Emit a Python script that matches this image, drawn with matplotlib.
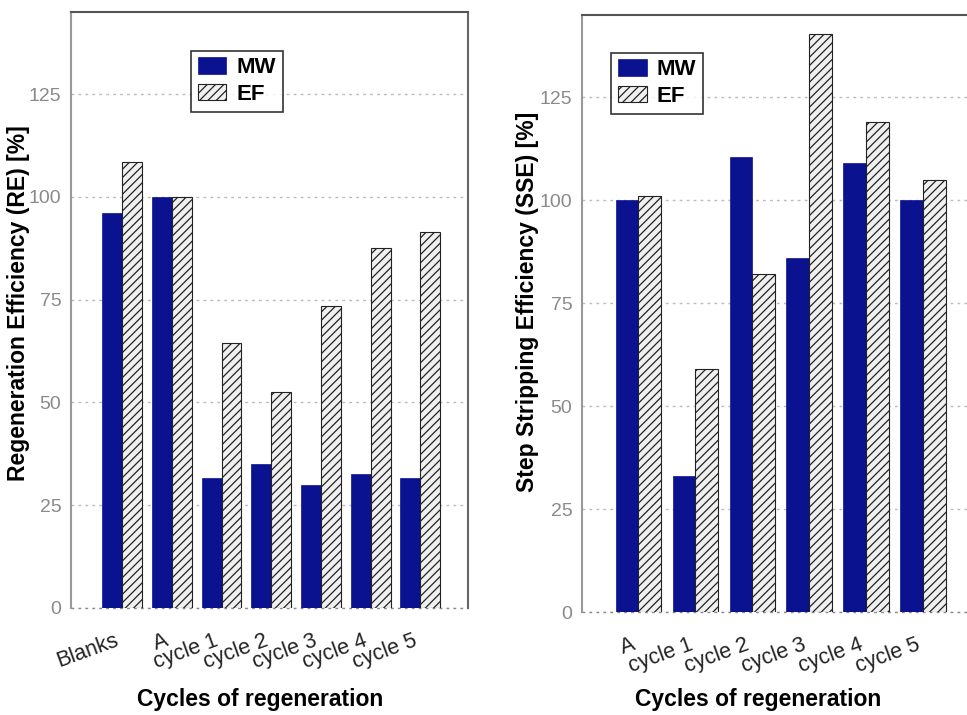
import numpy as np
import matplotlib
matplotlib.use("Agg")
import matplotlib.pyplot as plt

plt.rcParams['font.family'] = ['Liberation Sans', 'DejaVu Sans']
plt.rcParams['hatch.linewidth'] = 0.9
plt.rcParams['hatch.color'] = '#333333'

# Left panel: regeneration efficiency
re_labels = ["Blanks", "A", "cycle 1", "cycle 2", "cycle 3", "cycle 4", "cycle 5"]
re_mw = [96, 100, 31.5, 35, 30, 32.5, 31.5]
re_ef = [108.5, 100, 64.5, 52.5, 73.5, 87.5, 91.5]

# Right panel: step stripping efficiency
sse_labels = ["A", "cycle 1", "cycle 2", "cycle 3", "cycle 4", "cycle 5"]
sse_mw = [100, 33, 110.5, 86, 109, 100]
sse_ef = [101, 59, 82, 140.5, 119, 105]

yticks = [0, 25, 50, 75, 100, 125]

mw_color = "#0a1290"
width = 0.4

fig = plt.figure(figsize=(9.67, 7.15), dpi=100)
ax1 = fig.add_axes([0.0734, 0.1497, 0.4106, 0.8336])
ax2 = fig.add_axes([0.6019, 0.144, 0.4116, 0.835])


def draw(ax, labels, mw, ef, ylabel, xlim, xlab_xy, ylab_xy, legend_anchor,
         tick_shift):
    x = np.arange(len(labels))
    ax.bar(x - width / 2, mw, width, color=mw_color, edgecolor=mw_color,
           linewidth=0.5, label="MW", zorder=3)
    ax.bar(x + width / 2, ef, width, color="#f0f0f0", edgecolor="#222222",
           hatch="////", linewidth=0.8, label="EF", zorder=3)
    ax.set_xlim(*xlim)
    ax.set_ylim(0, 145)
    ax.set_yticks(yticks)
    ax.set_yticklabels([str(t) for t in yticks], color="#8a8a8a", fontsize=14)
    # slanted labels sit a bit left of the group centre
    ax.set_xticks(x - tick_shift)
    ax.set_xticklabels(labels, rotation=20, ha="right", rotation_mode="anchor",
                       fontsize=15.5, color="#222222")
    ax.tick_params(axis="both", length=0)
    ax.tick_params(axis="y", pad=7)
    ax.tick_params(axis="x", pad=16)
    ax.grid(axis="y", linestyle=(0, (2, 3)), color="#bbbbbb", linewidth=1.0,
            zorder=0)
    ax.spines["bottom"].set_visible(False)
    ax.spines["left"].set_color("#999999")
    ax.spines["top"].set_color("#555555")
    ax.spines["right"].set_color("#666666")
    for s in ["left", "top", "right"]:
        ax.spines[s].set_linewidth(1.5)
    ax.axhline(0, linestyle=(0, (2, 3)), color="#888888", linewidth=1.0,
               zorder=1, clip_on=False)
    ax.set_ylabel(ylabel, fontsize=16.5, fontweight="bold")
    ax.set_xlabel("Cycles of regeneration", fontsize=16.5, fontweight="bold")
    ax.yaxis.set_label_coords(*ylab_xy)
    ax.xaxis.set_label_coords(*xlab_xy)
    leg = ax.legend(loc="upper left", bbox_to_anchor=legend_anchor,
                    frameon=True, fancybox=False, edgecolor="black",
                    prop={"weight": "bold", "size": 16}, handlelength=1.3,
                    handleheight=0.75, borderpad=0.3, labelspacing=0.25,
                    handletextpad=0.45, borderaxespad=0)
    leg.get_frame().set_linewidth(1.2)


draw(ax1, re_labels, re_mw, re_ef, "Regeneration Efficiency (RE) [%]",
     (-1.03, 6.96), (0.476, -0.134), (-0.104, 0.512), (0.302, 0.935), 0.16)
draw(ax2, sse_labels, sse_mw, sse_ef, "Step Stripping Efficiency (SSE) [%]",
     (-0.99, 6.0), (0.442, -0.127), (-0.107, 0.519), (0.073, 0.937), 0.125)

fig.savefig("out.png", dpi=100)
